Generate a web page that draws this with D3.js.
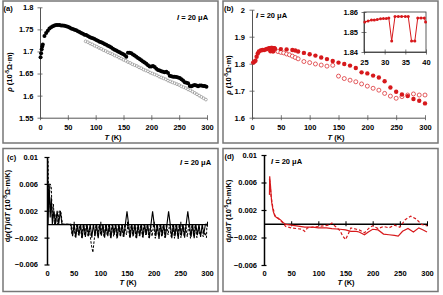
<!DOCTYPE html>
<html>
<head>
<meta charset="utf-8">
<script src="https://cdn.jsdelivr.net/npm/d3@7"></script>
<style>
  body { margin: 0; background: #fff; }
  svg text { font-family: "Liberation Sans", Arial, sans-serif; font-weight: bold; font-size: 7.5px; fill: #000; }
</style>
</head>
<body>
<div id="chart"></div>
<script>
/**
 * DATA
 * [T (K), value]
 * */
const tempTicks = [0, 50, 100, 150, 200, 250, 300];

// panel (a): rho, black
const aTicks = [1.55, 1.6, 1.65, 1.7, 1.75, 1.8];
const aFilled = [[1,1.687],[2,1.696],[3,1.705],[4,1.711],[5,1.716],[8,1.735],[11,1.742],[14,1.747],[17,1.752],[20,1.755],[23,1.757],[26,1.759],[29,1.760],[32,1.760],[35,1.760],[38,1.759],[41,1.759],[44,1.758],[47,1.757],[50,1.756],[53,1.754],[56,1.752],[59,1.751],[62,1.749],[65,1.748],[68,1.746],[71,1.744],[74,1.742],[77,1.740],[80,1.738],[83,1.737],[86,1.735],[89,1.733],[92,1.731],[95,1.730],[98,1.728],[101,1.726],[104,1.724],[107,1.722],[110,1.721],[113,1.719],[116,1.717],[119,1.715],[122,1.713],[125,1.711],[128,1.709],[131,1.706],[134,1.704],[137,1.702],[140,1.700],[143,1.698],[146,1.696],[149,1.694],[152,1.692],[155,1.688],[158,1.697],[161,1.697],[164,1.696],[167,1.693],[170,1.691],[173,1.688],[176,1.685],[179,1.683],[182,1.680],[185,1.677],[188,1.675],[191,1.672],[194,1.669],[197,1.666],[200,1.666],[203,1.667],[206,1.665],[209,1.661],[212,1.658],[215,1.657],[218,1.655],[221,1.654],[224,1.653],[227,1.654],[230,1.651],[233,1.645],[236,1.644],[239,1.643],[242,1.643],[245,1.642],[248,1.641],[251,1.640],[254,1.637],[257,1.634],[260,1.630],[263,1.629],[266,1.628],[269,1.622],[272,1.621],[275,1.623],[278,1.624],[281,1.623],[284,1.621],[287,1.623],[290,1.623],[293,1.622],[296,1.622],[299,1.620]];
const aOpen = [[82,1.723],[86,1.721],[90,1.718],[94,1.716],[98,1.713],[102,1.711],[106,1.708],[110,1.706],[114,1.703],[118,1.701],[122,1.698],[126,1.696],[130,1.694],[134,1.691],[138,1.689],[142,1.686],[146,1.684],[150,1.681],[154,1.679],[158,1.676],[162,1.674],[166,1.671],[170,1.669],[174,1.667],[178,1.664],[182,1.662],[186,1.659],[190,1.657],[194,1.655],[198,1.652],[202,1.650],[206,1.648],[210,1.646],[214,1.643],[218,1.641],[222,1.639],[226,1.637],[230,1.634],[234,1.632],[238,1.630],[242,1.628],[246,1.626],[250,1.624],[254,1.621],[258,1.619],[262,1.617],[266,1.614],[270,1.612],[274,1.609],[278,1.606],[282,1.603],[286,1.600],[290,1.597],[294,1.594],[298,1.591]];

// panel (b): rho, red
const bTicks = [1.6, 1.7, 1.8, 1.9, 2];
const bFilled = [[2,1.804],[4,1.807],[6,1.811],[8,1.826],[10,1.838],[12,1.845],[15,1.849],[18,1.851],[21,1.851],[24,1.853],[26,1.855],[28,1.856],[30,1.857],[31,1.857],[32,1.846],[33,1.858],[34,1.858],[35,1.858],[36,1.846],[37,1.846],[38,1.857],[39,1.857],[40,1.855],[50,1.854],[60,1.853],[70,1.851],[75,1.849],[80,1.845],[90,1.840],[100,1.835],[110,1.830],[120,1.823],[130,1.817],[140,1.810],[150,1.804],[160,1.799],[170,1.793],[180,1.784],[190,1.768],[200,1.764],[210,1.756],[220,1.749],[230,1.735],[240,1.712],[250,1.696],[260,1.686],[270,1.680],[280,1.669],[290,1.663],[300,1.653]];
const bOpen = [[45,1.845],[50,1.842],[55,1.840],[60,1.836],[65,1.833],[70,1.828],[75,1.823],[80,1.818],[90,1.808],[100,1.804],[110,1.799],[120,1.795],[130,1.791],[140,1.794],[150,1.754],[160,1.745],[170,1.739],[180,1.733],[190,1.725],[200,1.717],[210,1.709],[220,1.702],[230,1.690],[240,1.680],[250,1.672],[260,1.678],[270,1.684],[280,1.688],[290,1.684],[300,1.684]];

// inset of (b): 25-40 K
const insetXTicks = [25, 30, 35, 40];
const insetYTicks = [1.84, 1.85, 1.86];
const inset = [[25.2,1.855],[26,1.8555],[26.8,1.856],[27.5,1.856],[28.2,1.8563],[29,1.8566],[29.7,1.8567],[30.4,1.8567],[31,1.857],[31.7,1.8455],[32.5,1.8578],[33.3,1.8578],[34.1,1.8578],[35,1.8578],[35.7,1.8578],[36.5,1.8455],[37.3,1.8455],[38,1.857],[38.8,1.857],[39.6,1.857],[39.9,1.855]];

// panels (c) and (d): d rho / dT
const dTicks = [-0.006, -0.002, 0.002, 0.006, 0.01];
const cSolid = [[0,0.0098],[1,0.0098],[2,0],[4,0.006],[6,0.001],[8,0.004],[10,0],[13,0.002],[16,0],[19,0.002],[22,0],[25,0.002],[28,0],[45,0],[48,-0.0018],[51,0],[54,-0.002],[57,0],[60,-0.0017],[63,0],[66,-0.0021],[69,0],[72,-0.0019],[75,0],[78,-0.0016],[81,0],[84,-0.002],[87,0],[90,-0.0018],[93,0],[96,-0.0021],[99,0],[102,-0.0017],[105,0],[108,-0.002],[111,0],[114,-0.0018],[117,0],[120,-0.0021],[123,0],[126,-0.0016],[129,0],[132,-0.002],[135,0],[138,-0.0018],[141,0],[144,-0.0019],[147,0],[150,0.0019],[153,0],[156,-0.002],[159,0],[162,-0.0017],[165,0],[168,-0.0021],[171,0],[174,-0.0018],[177,0],[180,-0.002],[183,0],[186,-0.0016],[189,0],[192,-0.0021],[195,0],[198,0.0019],[201,0],[204,-0.0018],[207,0],[210,-0.0022],[213,0],[216,-0.0017],[219,0],[222,-0.002],[225,0],[228,0.0019],[231,0],[234,-0.0021],[237,0],[240,-0.0018],[243,0],[246,-0.0022],[249,0],[252,-0.0017],[255,0],[258,-0.002],[261,0],[264,0.0019],[267,0],[270,-0.0019],[273,0],[276,-0.0021],[279,0],[282,-0.0016],[285,0],[288,-0.0019],[291,0],[294,-0.0015],[297,0],[300,0]];
const cDashed = [[0,0.01],[2,0.0095],[3,0.002],[6,0.006],[8,0.0055],[10,0.001],[12,0.003],[14,0],[17,0.0015],[20,0],[23,0.002],[26,0.0018],[29,0],[44,0],[47,-0.0015],[50,0],[53,-0.0019],[56,0],[59,-0.0016],[62,0],[65,-0.002],[68,0],[71,-0.0017],[74,0],[77,-0.0019],[80,-0.001],[83,-0.003],[86,-0.0042],[89,-0.002],[92,0],[95,-0.0018],[98,0],[101,-0.0016],[104,0],[107,-0.0019],[110,0],[113,-0.0017],[116,0],[119,-0.002],[122,0],[125,-0.0018],[128,0],[131,-0.0021],[134,0],[137,-0.0017],[140,0],[143,-0.0019],[146,0],[149,-0.0016],[152,0],[155,-0.002],[158,0],[161,-0.0018],[164,0],[167,-0.0021],[170,0],[173,-0.0017],[176,0],[179,-0.0019],[182,0],[185,-0.0016],[188,0],[191,-0.002],[194,0],[197,-0.0018],[200,0],[203,-0.0021],[206,0],[209,-0.0017],[212,0],[215,-0.0019],[218,0],[221,-0.002],[224,0],[227,-0.0016],[230,0],[233,-0.0019],[236,0],[239,-0.0021],[242,0],[245,-0.0018],[248,0],[251,-0.002],[254,0],[257,-0.0017],[260,0],[263,-0.0019],[266,0],[269,-0.0021],[272,0],[275,-0.0018],[278,0],[281,-0.002],[284,-0.0008],[287,-0.0016],[290,-0.001],[293,-0.0019],[296,-0.0012],[299,-0.002],[300,0.0002]];
const dSolid = [[10,0.0042],[10.5,0.0069],[12,0.0055],[14,0.0032],[17,0.0018],[20,0.0011],[25,0.0008],[30,0.0006],[35,0.0002],[40,-0.0001],[50,-0.0002],[60,-0.0003],[75,-0.0005],[90,-0.0005],[100,-0.0006],[115,-0.0006],[125,-0.0007],[140,-0.0008],[150,-0.0009],[160,-0.0011],[170,-0.0011],[175,-0.0012],[185,-0.0016],[192,-0.0012],[200,-0.0008],[210,-0.0009],[220,-0.0015],[230,-0.0016],[240,-0.0017],[247,-0.0018],[255,-0.0011],[265,-0.0007],[275,-0.0012],[285,-0.0006],[293,-0.0009],[300,-0.0012]];
const dDashed = [[10,0.0065],[11,0.006],[13,0.004],[16,0.0025],[20,0.0012],[25,0.0009],[30,0.0005],[35,0.0001],[40,-0.0004],[50,-0.0006],[60,-0.0007],[70,-0.0008],[75,-0.0011],[80,-0.0006],[90,-0.0005],[100,-0.0004],[110,-0.0003],[120,-0.0002],[125,0.0001],[130,-0.0003],[140,-0.001],[145,-0.0018],[150,-0.0023],[155,-0.0015],[160,-0.0006],[170,-0.0008],[175,-0.0009],[185,-0.0013],[195,-0.0005],[200,-0.0003],[210,-0.0007],[220,-0.0004],[230,-0.0006],[240,-0.0002],[250,-0.0005],[260,0.0006],[270,0.0011],[280,0.0007],[290,-0.0001],[300,-0.0003]];

/**
 * SETUP
 * */
const width = 443, height = 295;
const red = "#d7191c";

const svg = d3.select("#chart").append("svg")
  .attr("width", width)
  .attr("height", height);

// panel frames
[[3, 1, 215, 142], [223, 1, 215, 142], [3, 148.5, 215, 143], [223, 148.5, 215, 143]].forEach(([x, y, w, h]) => {
  svg.append("rect").attr("x", x).attr("y", y).attr("width", w).attr("height", h)
    .attr("fill", "none").attr("stroke", "#777").attr("stroke-width", 1.5);
});

// y axis with ticks crossing the line
function yAxis(y, x0, ticks, fmt, color, sw, pad) {
  const g = svg.append("g").attr("transform", `translate(${x0},0)`)
    .call(d3.axisLeft(y).tickValues(ticks).tickFormat(fmt).tickSizeOuter(0).tickPadding(pad));
  g.select(".domain").attr("stroke", color).attr("stroke-width", sw);
  g.selectAll(".tick line").attr("x1", 2.5).attr("x2", -2.5).attr("stroke", color).attr("stroke-width", sw * 0.8);
  g.selectAll(".tick text").attr("x", -pad).attr("font-size", null).attr("font-family", null);
  return g;
}

// x axis at some y, labels shifted down to labelY (centre)
function xAxis(x, axisY, labelY, ticks, color, sw) {
  const g = svg.append("g").attr("transform", `translate(0,${axisY})`)
    .call(d3.axisBottom(x).tickValues(ticks).tickSizeOuter(0));
  g.select(".domain").attr("stroke", color).attr("stroke-width", sw);
  g.selectAll(".tick line").attr("y1", -2.5).attr("y2", 2.5).attr("stroke", color).attr("stroke-width", sw * 0.8);
  g.selectAll(".tick text").attr("y", labelY - 2.6 - axisY).attr("font-size", null).attr("font-family", null);
  return g;
}

function tLabel(cx, by) {
  const t = svg.append("text").attr("x", cx).attr("y", by).attr("text-anchor", "middle");
  t.append("tspan").attr("font-style", "italic").text("T");
  t.append("tspan").text(" (K)");
}

function currentLabel(x0, by) {
  const t = svg.append("text").attr("x", x0).attr("y", by);
  t.append("tspan").attr("font-style", "italic").text("I");
  t.append("tspan").text(" = 20 μA");
}

// rotated title: parts = [[text, style]]
function yTitle(cx, cy, parts) {
  const t = svg.append("text").attr("text-anchor", "middle")
    .attr("transform", `translate(${cx},${cy}) rotate(-90)`);
  parts.forEach(([s, kind]) => {
    const ts = t.append("tspan").text(s);
    if (kind === "i") ts.attr("font-style", "italic");
    if (kind === "sup") ts.attr("font-size", "5px").attr("dy", -2.6);
    if (kind === "after") ts.attr("dy", 2.6);
  });
}

const rhoParts = [["ρ", "i"], [" (10", ""], ["-5", "sup"], ["Ω·m)", "after"]];

/**
 * PANEL (a)
 * */
{
  const x = d3.scaleLinear().domain([0, 300]).range([40, 207]);
  const y = d3.scaleLinear().domain([1.55, 1.8]).range([117.7, 7.3]);
  yAxis(y, 40, aTicks, d => d3.format("")(d), "#555", 1, 6.5);
  xAxis(x, 117.7, 127, tempTicks, "#555", 1);

  svg.append("g").selectAll("circle").data(aOpen).join("circle")
    .attr("cx", d => x(d[0])).attr("cy", d => y(d[1])).attr("r", 1.4)
    .attr("fill", "#fff").attr("stroke", "#555").attr("stroke-width", 0.45);
  svg.append("g").selectAll("circle").data(aFilled).join("circle")
    .attr("cx", d => x(d[0])).attr("cy", d => y(d[1])).attr("r", 2)
    .attr("fill", "#000");

  svg.append("text").attr("x", 3.5).attr("y", 10.5).text("(a)");
  currentLabel(177, 19.5);
  tLabel(113, 140);
  yTitle(12, 72, rhoParts);
}

/**
 * PANEL (b)
 * */
{
  const x = d3.scaleLinear().domain([0, 300]).range([252, 425]);
  const y = d3.scaleLinear().domain([1.6, 2]).range([117.7, 9.7]);
  yAxis(y, 252, bTicks, d => d3.format("")(d), "#555", 1, 7);
  xAxis(x, 117.7, 127, tempTicks, "#555", 1);

  svg.append("g").selectAll("circle").data(bOpen).join("circle")
    .attr("cx", d => x(d[0])).attr("cy", d => y(d[1])).attr("r", 2)
    .attr("fill", "#fff").attr("stroke", red).attr("stroke-width", 0.7);
  svg.append("g").selectAll("circle").data(bFilled).join("circle")
    .attr("cx", d => x(d[0])).attr("cy", d => y(d[1])).attr("r", 2.2)
    .attr("fill", red);

  svg.append("text").attr("x", 224).attr("y", 11).text("(b)");
  currentLabel(256, 17.5);
  tLabel(336, 140);
  yTitle(231, 75, rhoParts);

  // inset
  const ix = d3.scaleLinear().domain([25, 40]).range([364, 426]);
  const iy = d3.scaleLinear().domain([1.84, 1.86]).range([52, 12]);
  svg.append("rect").attr("x", 364).attr("y", 12).attr("width", 62).attr("height", 40)
    .attr("fill", "#fff").attr("stroke", "#333").attr("stroke-width", 0.8);
  yAxis(iy, 364, insetYTicks, d3.format(".2f"), "#333", 0.8, 6);
  const gx = xAxis(ix, 52, 62, insetXTicks, "#333", 0.8);
  gx.selectAll(".tick text").attr("font-family", "'Liberation Serif', serif");
  svg.append("path").datum(inset)
    .attr("d", d3.line().x(d => ix(d[0])).y(d => iy(d[1])))
    .attr("fill", "none").attr("stroke", red).attr("stroke-width", 1);
  svg.append("g").selectAll("circle").data(inset).join("circle")
    .attr("cx", d => ix(d[0])).attr("cy", d => iy(d[1])).attr("r", 1.5)
    .attr("fill", red);
}

const dFmt = d => d3.format("")(+d.toFixed(3));

/**
 * PANEL (c)
 * */
{
  const x = d3.scaleLinear().domain([0, 300]).range([47, 207]);
  const y = d3.scaleLinear().domain([-0.006, 0.01]).range([264.5, 157]);
  yAxis(y, 47, dTicks, dFmt, "#000", 1.5, 9);
  xAxis(x, y(0), 273, tempTicks, "#000", 1.3);

  const line = d3.line().x(d => x(d[0])).y(d => y(d[1]));
  svg.append("path").datum(cDashed).attr("d", line)
    .attr("fill", "none").attr("stroke", "#000").attr("stroke-width", 1).attr("stroke-dasharray", "2.5,1.5");
  svg.append("path").datum(cSolid).attr("d", line)
    .attr("fill", "none").attr("stroke", "#000").attr("stroke-width", 1.1);

  svg.append("text").attr("x", 7).attr("y", 160).text("(c)");
  currentLabel(180, 164.5);
  tLabel(128, 285);
  yTitle(10, 206, [["d", ""], ["ρ", "i"], ["(", ""], ["T", "i"], [")/d", ""], ["T", "i"], [" (10", ""], ["-5", "sup"], ["Ω·m/K)", "after"]]);
}

/**
 * PANEL (d)
 * */
{
  const x = d3.scaleLinear().domain([0, 300]).range([264, 427]);
  const y = d3.scaleLinear().domain([-0.006, 0.01]).range([265, 155]);
  yAxis(y, 264, dTicks, dFmt, "#000", 1.5, 7);
  xAxis(x, y(0), 273, tempTicks, "#000", 1.3);

  const line = d3.line().x(d => x(d[0])).y(d => y(d[1]));
  svg.append("path").datum(dDashed).attr("d", line)
    .attr("fill", "none").attr("stroke", red).attr("stroke-width", 1.2).attr("stroke-dasharray", "3,2");
  svg.append("path").datum(dSolid).attr("d", line)
    .attr("fill", "none").attr("stroke", red).attr("stroke-width", 1.2);

  svg.append("text").attr("x", 224.5).attr("y", 159).text("(d)");
  currentLabel(271, 163.5);
  tLabel(346, 285);
  yTitle(231, 211, [["d", ""], ["ρ", "i"], ["/d", ""], ["T", "i"], [" (10", ""], ["-5", "sup"], ["Ω·m/K)", "after"]]);
}
</script>
</body>
</html>
